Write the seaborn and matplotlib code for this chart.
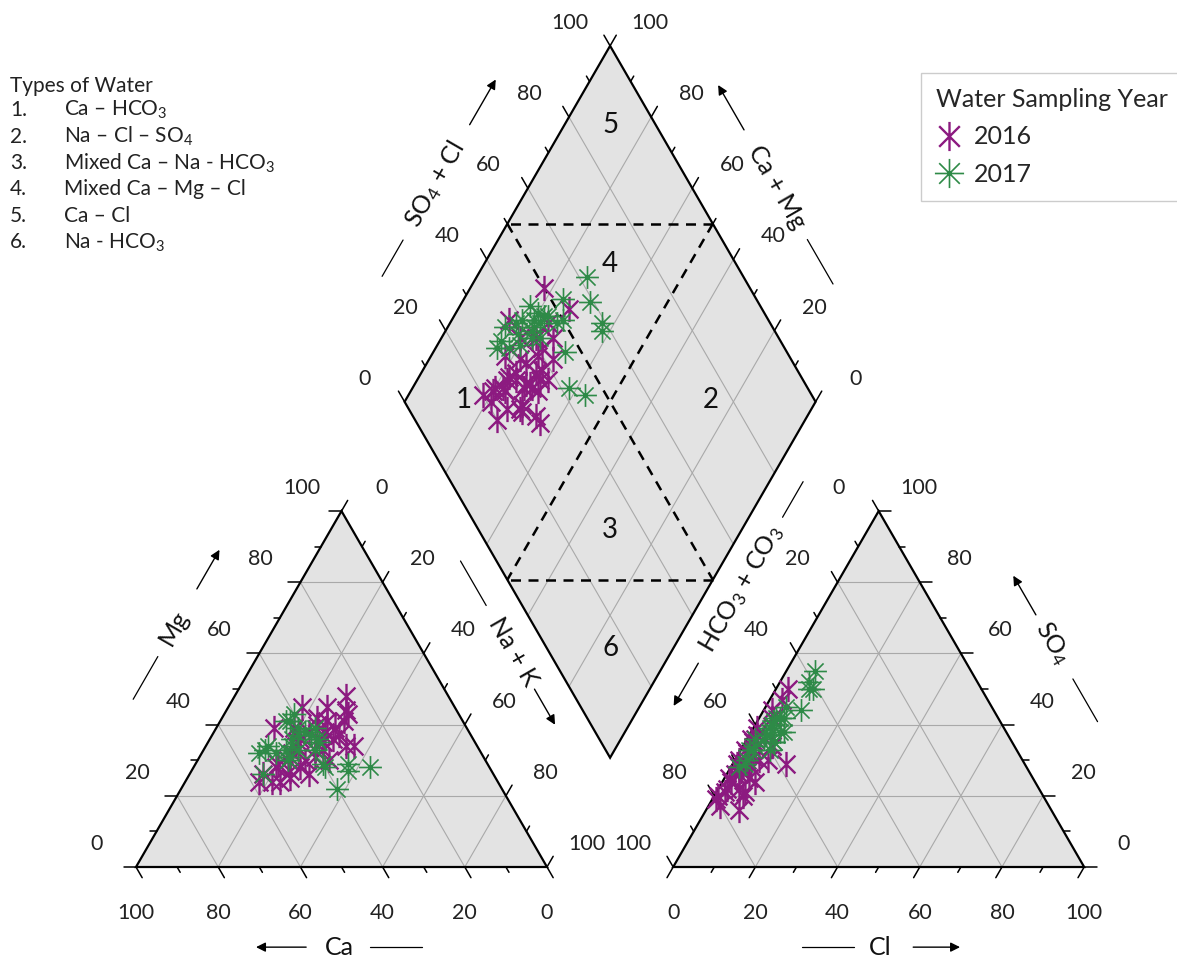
import numpy as np
import pandas as pd
import seaborn as sns
import matplotlib.pyplot as plt
from matplotlib.path import Path
from matplotlib.patches import Polygon
from matplotlib.lines import Line2D

sns.set_style("white")
plt.rcParams['font.family'] = ['Lato', 'DejaVu Sans']
plt.rcParams['mathtext.fontset'] = 'custom'
plt.rcParams['mathtext.rm'] = 'Lato'
plt.rcParams['mathtext.it'] = 'Lato:italic'
plt.rcParams['mathtext.bf'] = 'Lato:bold'

# ---- data (% meq/L) ----
# 2016
ca_16 = [25, 27, 37, 47, 32, 32, 46, 56, 53, 45, 55, 32, 27, 35, 36, 50, 30, 40, 42, 38,
         48, 44, 34, 52, 41, 36, 58, 44, 39, 43, 37, 46, 33, 49, 38, 31, 42, 51, 35, 29]
mg_16 = [48, 44, 45, 39, 37, 34, 28, 26, 24, 26, 24, 39, 43, 42, 40, 25, 34, 33, 36, 30,
         30, 34, 36, 28, 31, 37, 24, 30, 38, 35, 35, 32, 41, 27, 33, 45, 39, 29, 38, 41]
na_16 = [27, 29, 18, 14, 31, 34, 26, 18, 23, 29, 21, 29, 30, 23, 24, 25, 36, 27, 22, 32,
         22, 22, 30, 20, 28, 27, 18, 26, 23, 22, 28, 22, 26, 24, 29, 24, 19, 20, 27, 30]
hco3_16 = [47, 62, 50, 63, 66, 70, 59, 69, 74, 73, 79, 72, 58, 59, 65, 80, 70, 68, 66, 62,
           72, 60, 73, 76, 67, 55, 80, 76, 69, 71, 64, 74, 61, 70, 67, 54, 63, 77, 69, 64]
so4_16 = [50, 30, 47, 36, 33, 29, 34, 30, 25, 20, 20, 21, 29, 34, 31, 19, 28, 24, 32, 36,
          26, 39, 22, 22, 30, 42, 17, 16, 28, 26, 33, 24, 37, 27, 28, 44, 35, 21, 25, 30]
cl_16 = [3, 8, 3, 1, 1, 1, 7, 1, 1, 7, 1, 7, 13, 7, 4, 1, 2, 8, 2, 2,
         2, 1, 5, 2, 3, 3, 3, 8, 3, 3, 3, 2, 2, 3, 5, 2, 2, 2, 6, 6]

# 2017
ca_17 = [40, 40, 34, 40, 39, 48, 42, 42, 51, 40, 35, 29, 38, 54, 43, 56, 47, 40, 40, 47,
         44, 41, 45, 50, 38, 44, 52, 37]
mg_17 = [33, 29, 29, 22, 37, 30, 37, 41, 34, 28, 27, 28, 36, 32, 41, 26, 31, 38, 43, 33,
         36, 39, 34, 32, 35, 33, 33, 39]
na_17 = [27, 31, 37, 38, 24, 22, 21, 17, 15, 32, 38, 43, 26, 14, 16, 18, 22, 22, 17, 20,
         20, 20, 21, 18, 27, 23, 15, 24]
hco3_17 = [38, 41, 41, 42, 47, 54, 58, 60, 70, 54, 58, 55, 52, 65, 62, 67, 56, 60, 56, 64,
           57, 55, 59, 63, 50, 53, 68, 58]
so4_17 = [55, 52, 50, 50, 44, 42, 35, 36, 28, 38, 35, 38, 42, 33, 36, 30, 40, 33, 40, 33,
          39, 41, 37, 34, 45, 42, 29, 37]
cl_17 = [7, 7, 9, 8, 9, 4, 7, 4, 2, 8, 7, 7, 6, 2, 2, 3, 4, 7, 4, 3,
         4, 4, 4, 3, 5, 5, 3, 5]

years = ["2016", "2017"]
year_colors = ["#8c1a80", "#2e8a47"]

type_nums = ["1.", "2.", "3.", "4.", "5.", "6."]
type_names = ["Ca – HCO$_3$", "Na – Cl – SO$_4$", "Mixed Ca – Na - HCO$_3$",
              "Mixed Ca – Mg – Cl", "Ca – Cl", "Na - HCO$_3$"]

# ---- geometry ----
H = np.sqrt(3) / 2
GAP = 30.7
AX0 = 100 + GAP
B = np.array([100 + GAP / 2, GAP * H])


def cation_xy(ca, mg, na):
    ca, mg, na = np.asarray(ca, float), np.asarray(mg, float), np.asarray(na, float)
    return na + 0.5 * mg, H * mg


def anion_xy(hco3, so4, cl):
    hco3, so4, cl = np.asarray(hco3, float), np.asarray(so4, float), np.asarray(cl, float)
    return AX0 + cl + 0.5 * so4, H * so4


def diamond_xy(c, s):
    c, s = np.asarray(c, float), np.asarray(s, float)
    return B[0] + 0.5 * (s - c), B[1] + H * (c + s)


fig = plt.figure(figsize=(11.77, 9.61), dpi=100)
ax = fig.add_axes([0, 0, 1, 1])
XLIM = (-136 / 4.11, (1177 - 136) / 4.11)
YLIM = ((867 - 961) / 4.11, 867 / 4.11)
ax.set_xlim(*XLIM)
ax.set_ylim(*YLIM)
ax.axis('off')

FILL = "#e3e3e3"
GRID = "#a9a9a9"

cat_c = np.array([cation_xy(100, 0, 0), cation_xy(0, 0, 100), cation_xy(0, 100, 0)])
an_c = np.array([anion_xy(100, 0, 0), anion_xy(0, 0, 100), anion_xy(0, 100, 0)])
dia_c = np.array([diamond_xy(0, 0), diamond_xy(100, 0), diamond_xy(100, 100), diamond_xy(0, 100)])

for poly in [cat_c, an_c, dia_c]:
    ax.add_patch(Polygon(poly, closed=True, facecolor='none', edgecolor='black', lw=1.6, zorder=3,
                         joinstyle='miter'))
    ax.add_patch(Polygon(poly, closed=True, facecolor=FILL, edgecolor='none', zorder=0))


def seg(p, q, **kw):
    ax.plot([p[0], q[0]], [p[1], q[1]], **kw)


gkw = dict(color=GRID, lw=0.8, zorder=1)
for v in [20, 40, 60, 80]:
    w = 100 - v
    seg(cation_xy(w, v, 0), cation_xy(0, v, w), **gkw)
    seg(cation_xy(w, 0, v), cation_xy(0, w, v), **gkw)
    seg(cation_xy(v, w, 0), cation_xy(v, 0, w), **gkw)
    seg(anion_xy(w, v, 0), anion_xy(0, v, w), **gkw)
    seg(anion_xy(w, 0, v), anion_xy(0, w, v), **gkw)
    seg(anion_xy(v, w, 0), anion_xy(v, 0, w), **gkw)
    seg(diamond_xy(0, v), diamond_xy(100, v), **gkw)
    seg(diamond_xy(v, 0), diamond_xy(v, 100), **gkw)

# facies dashed lines
dkw = dict(color='black', lw=1.8, ls=(0, (4, 3)), zorder=4)
seg(diamond_xy(50, 100), diamond_xy(100, 50), **dkw)
seg(diamond_xy(0, 50), diamond_xy(50, 0), **dkw)
seg(diamond_xy(100, 50), diamond_xy(0, 50), **dkw)
seg(diamond_xy(50, 100), diamond_xy(50, 0), **dkw)

TICK = 15.5
LAB_OFF = 11.2


def axis_ticks(point_fn, direction, normal):
    direction = np.array(direction)
    normal = np.array(normal)
    for v in range(0, 101, 10):
        p = np.array(point_fn(v))
        ln = 3.0 if v % 20 == 0 else 1.5
        seg(p, p + ln * direction, color='black', lw=1.1, zorder=3)
        if v % 20 == 0:
            lp = p + LAB_OFF * normal
            ax.text(lp[0], lp[1], str(v), ha='center', va='center', fontsize=TICK, color='#222222')


nl = (-H, 0.5)
nr = (H, 0.5)
down = (0, -1)
axis_ticks(lambda v: cation_xy(100 - v, v, 0), (-1, 0), nl)
axis_ticks(lambda v: cation_xy(0, 100 - v, v), (0.5, H), nr)
axis_ticks(lambda v: cation_xy(v, 0, 100 - v), (0.5, -H), down)
axis_ticks(lambda v: anion_xy(v, 100 - v, 0), (-0.5, H), nl)
axis_ticks(lambda v: anion_xy(0, v, 100 - v), (1, 0), nr)
axis_ticks(lambda v: anion_xy(100 - v, 0, v), (-0.5, -H), down)
axis_ticks(lambda v: diamond_xy(100, v), (-0.5, H), nl)
axis_ticks(lambda v: diamond_xy(v, 100), (0.5, H), nr)


def edge_title(p0, p1, normal, off, t_line, t_text, t_arrow, text, rot):
    p0, p1, normal = np.array(p0), np.array(p1), np.array(normal)

    def pt(t):
        return p0 + t * (p1 - p0) + off * normal
    seg(pt(t_line[0]), pt(t_line[1]), color='black', lw=0.9)
    tp = pt(t_text)
    ax.text(tp[0], tp[1], text, rotation=rot, ha='center', va='center', fontsize=18,
            rotation_mode='anchor', color='#111111')
    ax.annotate("", xy=pt(t_arrow[1]), xytext=pt(t_arrow[0]),
                arrowprops=dict(arrowstyle='-|>', color='black', lw=1.0, mutation_scale=14,
                                shrinkA=0, shrinkB=0))


edge_title(cat_c[0], cat_c[2], nl, 21.0, (0.35, 0.47), 0.55, (0.66, 0.77), "Mg", 60)
edge_title(cat_c[2], cat_c[1], nr, 19.0, (0.25, 0.375), 0.505, (0.61, 0.71), "Na + K", -60)
edge_title(cat_c[1], cat_c[0], down, 19.5, (0.304, 0.43), 0.504, (0.586, 0.708), "Ca", 0)
edge_title(an_c[0], an_c[1], down, 19.5, (0.314, 0.44), 0.504, (0.584, 0.698), "Cl", 0)
edge_title(an_c[1], an_c[2], nr, 20.5, (0.29, 0.41), 0.51, (0.59, 0.70), "SO$_4$", -60)
edge_title(an_c[2], an_c[0], nl, 19.5, (0.03, 0.13), 0.33, (0.54, 0.66), "HCO$_3$ + CO$_3$", 60)
edge_title(dia_c[1], dia_c[2], nl, 20.0, (0.237, 0.339), 0.495, (0.663, 0.79), "SO$_4$ + Cl", 60)
edge_title(dia_c[3], dia_c[2], nr, 18.0, (0.227, 0.352), 0.50, (0.66, 0.786), "Ca + Mg", -60)

# facies numbers
for lab, (c, s) in zip(["5", "4", "1", "2", "3", "6"],
                       [(88.9, 88.9), (69.3, 69.3), (85.8, 14.7), (25.7, 74.9), (32, 32), (15.4, 15.4)]):
    x, y = diamond_xy(c, s)
    ax.text(x, y, lab, ha='center', va='center', fontsize=20, color='#111111', zorder=6)

# ---- markers ----
a = 0.7071
star6 = Path([(0, -1), (0, 1), (-a, -a), (a, a), (-a, a), (a, -a)],
             [Path.MOVETO, Path.LINETO] * 3)
star8 = Path([(0, -1), (0, 1), (-1, 0), (1, 0), (-a, -a), (a, a), (-a, a), (a, -a)],
             [Path.MOVETO, Path.LINETO] * 4)

samples = {
    "2016": (ca_16, mg_16, na_16, hco3_16, so4_16, cl_16),
    "2017": (ca_17, mg_17, na_17, hco3_17, so4_17, cl_17),
}
marker_map = {"2016": star6, "2017": star8}
size_map = {"2016": 330, "2017": 270}
lw_map = {"2016": 1.7, "2017": 1.2}

for yr, col in zip(years, year_colors):
    ca, mg, na, hco3, so4, cl = samples[yr]
    cx, cy = cation_xy(ca, mg, na)
    axx, ayy = anion_xy(hco3, so4, cl)
    dx, dy = diamond_xy(np.add(ca, mg), np.add(so4, cl))
    df = pd.DataFrame({"x": np.concatenate([cx, axx, dx]),
                       "y": np.concatenate([cy, ayy, dy])})
    sns.scatterplot(data=df, x="x", y="y", marker=marker_map[yr], s=size_map[yr],
                    color=col, edgecolor=col, linewidth=lw_map[yr], ax=ax, zorder=5, legend=False)
ax.set_xlim(*XLIM)
ax.set_ylim(*YLIM)
ax.axis('off')

# legend
handles = [Line2D([], [], ls='none', marker=marker_map[yr], markersize=21, color=col,
                  markeredgecolor=col, markeredgewidth=lw_map[yr]) for yr, col in zip(years, year_colors)]
leg = ax.legend(handles, years, title="Water Sampling Year", loc='upper left',
                bbox_to_anchor=(921 / 1177, 1 - 73 / 961), bbox_transform=fig.transFigure,
                frameon=True, fancybox=False, edgecolor='#c0c0c0', fontsize=18, title_fontsize=18,
                borderpad=0.6, handlelength=1.0, handletextpad=0.5, labelspacing=0.58,
                alignment='left', borderaxespad=0)
leg.get_frame().set_linewidth(1.0)

# types of water list
fig.text(10 / 1177, 1 - 86 / 961, "Types of Water", fontsize=15, va='center', color='#222222')
for i, (n, name) in enumerate(zip(type_nums, type_names)):
    y = 1 - (110 + 26.5 * i) / 961
    fig.text(10 / 1177, y, n, fontsize=15, va='center', color='#222222')
    fig.text(64 / 1177, y, name, fontsize=15, va='center', color='#222222')

fig.savefig("out.png", dpi=100)
